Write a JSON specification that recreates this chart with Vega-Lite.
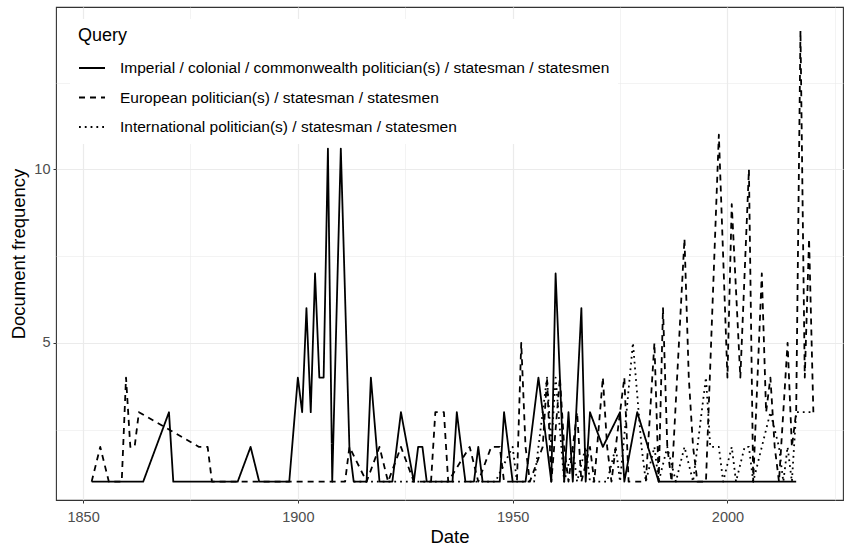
{
  "$schema": "https://vega.github.io/schema/vega-lite/v6.json",
  "width": 787,
  "height": 493,
  "autosize": {"type": "none"},
  "padding": {"left": 56, "top": 7, "right": 2, "bottom": 48},
  "background": "white",
  "config": {
    "font": "Liberation Sans",
    "view": {"stroke": "#333333", "strokeWidth": 1.1}
  },
  "data": {"values": [
    {"Date": 1852, "Query": "Imperial / colonial / commonwealth politician(s) / statesman / statesmen", "n": 1},
    {"Date": 1864, "Query": "Imperial / colonial / commonwealth politician(s) / statesman / statesmen", "n": 1},
    {"Date": 1870, "Query": "Imperial / colonial / commonwealth politician(s) / statesman / statesmen", "n": 3},
    {"Date": 1871, "Query": "Imperial / colonial / commonwealth politician(s) / statesman / statesmen", "n": 1},
    {"Date": 1886, "Query": "Imperial / colonial / commonwealth politician(s) / statesman / statesmen", "n": 1},
    {"Date": 1889, "Query": "Imperial / colonial / commonwealth politician(s) / statesman / statesmen", "n": 2},
    {"Date": 1891, "Query": "Imperial / colonial / commonwealth politician(s) / statesman / statesmen", "n": 1},
    {"Date": 1898, "Query": "Imperial / colonial / commonwealth politician(s) / statesman / statesmen", "n": 1},
    {"Date": 1900, "Query": "Imperial / colonial / commonwealth politician(s) / statesman / statesmen", "n": 4},
    {"Date": 1901, "Query": "Imperial / colonial / commonwealth politician(s) / statesman / statesmen", "n": 3},
    {"Date": 1902, "Query": "Imperial / colonial / commonwealth politician(s) / statesman / statesmen", "n": 6},
    {"Date": 1903, "Query": "Imperial / colonial / commonwealth politician(s) / statesman / statesmen", "n": 3},
    {"Date": 1904, "Query": "Imperial / colonial / commonwealth politician(s) / statesman / statesmen", "n": 7},
    {"Date": 1905, "Query": "Imperial / colonial / commonwealth politician(s) / statesman / statesmen", "n": 4},
    {"Date": 1906, "Query": "Imperial / colonial / commonwealth politician(s) / statesman / statesmen", "n": 4},
    {"Date": 1907, "Query": "Imperial / colonial / commonwealth politician(s) / statesman / statesmen", "n": 10.6},
    {"Date": 1908, "Query": "Imperial / colonial / commonwealth politician(s) / statesman / statesmen", "n": 1},
    {"Date": 1910, "Query": "Imperial / colonial / commonwealth politician(s) / statesman / statesmen", "n": 10.6},
    {"Date": 1912, "Query": "Imperial / colonial / commonwealth politician(s) / statesman / statesmen", "n": 2},
    {"Date": 1913, "Query": "Imperial / colonial / commonwealth politician(s) / statesman / statesmen", "n": 1},
    {"Date": 1916, "Query": "Imperial / colonial / commonwealth politician(s) / statesman / statesmen", "n": 1},
    {"Date": 1917, "Query": "Imperial / colonial / commonwealth politician(s) / statesman / statesmen", "n": 4},
    {"Date": 1919, "Query": "Imperial / colonial / commonwealth politician(s) / statesman / statesmen", "n": 1},
    {"Date": 1922, "Query": "Imperial / colonial / commonwealth politician(s) / statesman / statesmen", "n": 1},
    {"Date": 1924, "Query": "Imperial / colonial / commonwealth politician(s) / statesman / statesmen", "n": 3},
    {"Date": 1927, "Query": "Imperial / colonial / commonwealth politician(s) / statesman / statesmen", "n": 1},
    {"Date": 1928, "Query": "Imperial / colonial / commonwealth politician(s) / statesman / statesmen", "n": 2},
    {"Date": 1929, "Query": "Imperial / colonial / commonwealth politician(s) / statesman / statesmen", "n": 2},
    {"Date": 1930, "Query": "Imperial / colonial / commonwealth politician(s) / statesman / statesmen", "n": 1},
    {"Date": 1936, "Query": "Imperial / colonial / commonwealth politician(s) / statesman / statesmen", "n": 1},
    {"Date": 1937, "Query": "Imperial / colonial / commonwealth politician(s) / statesman / statesmen", "n": 3},
    {"Date": 1939, "Query": "Imperial / colonial / commonwealth politician(s) / statesman / statesmen", "n": 1},
    {"Date": 1941, "Query": "Imperial / colonial / commonwealth politician(s) / statesman / statesmen", "n": 1},
    {"Date": 1942, "Query": "Imperial / colonial / commonwealth politician(s) / statesman / statesmen", "n": 2},
    {"Date": 1943, "Query": "Imperial / colonial / commonwealth politician(s) / statesman / statesmen", "n": 1},
    {"Date": 1947, "Query": "Imperial / colonial / commonwealth politician(s) / statesman / statesmen", "n": 1},
    {"Date": 1948, "Query": "Imperial / colonial / commonwealth politician(s) / statesman / statesmen", "n": 3},
    {"Date": 1950, "Query": "Imperial / colonial / commonwealth politician(s) / statesman / statesmen", "n": 1},
    {"Date": 1953, "Query": "Imperial / colonial / commonwealth politician(s) / statesman / statesmen", "n": 1},
    {"Date": 1956, "Query": "Imperial / colonial / commonwealth politician(s) / statesman / statesmen", "n": 4},
    {"Date": 1959, "Query": "Imperial / colonial / commonwealth politician(s) / statesman / statesmen", "n": 1},
    {"Date": 1960, "Query": "Imperial / colonial / commonwealth politician(s) / statesman / statesmen", "n": 7},
    {"Date": 1962, "Query": "Imperial / colonial / commonwealth politician(s) / statesman / statesmen", "n": 1},
    {"Date": 1963, "Query": "Imperial / colonial / commonwealth politician(s) / statesman / statesmen", "n": 3},
    {"Date": 1964, "Query": "Imperial / colonial / commonwealth politician(s) / statesman / statesmen", "n": 1},
    {"Date": 1966, "Query": "Imperial / colonial / commonwealth politician(s) / statesman / statesmen", "n": 6},
    {"Date": 1967, "Query": "Imperial / colonial / commonwealth politician(s) / statesman / statesmen", "n": 1},
    {"Date": 1968, "Query": "Imperial / colonial / commonwealth politician(s) / statesman / statesmen", "n": 3},
    {"Date": 1971, "Query": "Imperial / colonial / commonwealth politician(s) / statesman / statesmen", "n": 2},
    {"Date": 1975, "Query": "Imperial / colonial / commonwealth politician(s) / statesman / statesmen", "n": 3},
    {"Date": 1976, "Query": "Imperial / colonial / commonwealth politician(s) / statesman / statesmen", "n": 1},
    {"Date": 1979, "Query": "Imperial / colonial / commonwealth politician(s) / statesman / statesmen", "n": 3},
    {"Date": 1984, "Query": "Imperial / colonial / commonwealth politician(s) / statesman / statesmen", "n": 1},
    {"Date": 2016, "Query": "Imperial / colonial / commonwealth politician(s) / statesman / statesmen", "n": 1},

    {"Date": 1852, "Query": "European politician(s) / statesman / statesmen", "n": 1},
    {"Date": 1854, "Query": "European politician(s) / statesman / statesmen", "n": 2},
    {"Date": 1856, "Query": "European politician(s) / statesman / statesmen", "n": 1},
    {"Date": 1859, "Query": "European politician(s) / statesman / statesmen", "n": 1},
    {"Date": 1860, "Query": "European politician(s) / statesman / statesmen", "n": 4},
    {"Date": 1861, "Query": "European politician(s) / statesman / statesmen", "n": 2},
    {"Date": 1862, "Query": "European politician(s) / statesman / statesmen", "n": 2},
    {"Date": 1863, "Query": "European politician(s) / statesman / statesmen", "n": 3},
    {"Date": 1877, "Query": "European politician(s) / statesman / statesmen", "n": 2},
    {"Date": 1879, "Query": "European politician(s) / statesman / statesmen", "n": 2},
    {"Date": 1880, "Query": "European politician(s) / statesman / statesmen", "n": 1},
    {"Date": 1911, "Query": "European politician(s) / statesman / statesmen", "n": 1},
    {"Date": 1912, "Query": "European politician(s) / statesman / statesmen", "n": 2},
    {"Date": 1916, "Query": "European politician(s) / statesman / statesmen", "n": 1},
    {"Date": 1919, "Query": "European politician(s) / statesman / statesmen", "n": 2},
    {"Date": 1921, "Query": "European politician(s) / statesman / statesmen", "n": 1},
    {"Date": 1924, "Query": "European politician(s) / statesman / statesmen", "n": 2},
    {"Date": 1927, "Query": "European politician(s) / statesman / statesmen", "n": 1},
    {"Date": 1931, "Query": "European politician(s) / statesman / statesmen", "n": 1},
    {"Date": 1932, "Query": "European politician(s) / statesman / statesmen", "n": 3},
    {"Date": 1934, "Query": "European politician(s) / statesman / statesmen", "n": 3},
    {"Date": 1935, "Query": "European politician(s) / statesman / statesmen", "n": 1},
    {"Date": 1940, "Query": "European politician(s) / statesman / statesmen", "n": 2},
    {"Date": 1942, "Query": "European politician(s) / statesman / statesmen", "n": 1},
    {"Date": 1945, "Query": "European politician(s) / statesman / statesmen", "n": 2},
    {"Date": 1947, "Query": "European politician(s) / statesman / statesmen", "n": 2},
    {"Date": 1948, "Query": "European politician(s) / statesman / statesmen", "n": 1},
    {"Date": 1951, "Query": "European politician(s) / statesman / statesmen", "n": 1},
    {"Date": 1952, "Query": "European politician(s) / statesman / statesmen", "n": 5},
    {"Date": 1953, "Query": "European politician(s) / statesman / statesmen", "n": 2},
    {"Date": 1954, "Query": "European politician(s) / statesman / statesmen", "n": 1},
    {"Date": 1957, "Query": "European politician(s) / statesman / statesmen", "n": 2},
    {"Date": 1958, "Query": "European politician(s) / statesman / statesmen", "n": 4},
    {"Date": 1959, "Query": "European politician(s) / statesman / statesmen", "n": 1},
    {"Date": 1961, "Query": "European politician(s) / statesman / statesmen", "n": 4},
    {"Date": 1962, "Query": "European politician(s) / statesman / statesmen", "n": 2},
    {"Date": 1963, "Query": "European politician(s) / statesman / statesmen", "n": 1},
    {"Date": 1965, "Query": "European politician(s) / statesman / statesmen", "n": 3},
    {"Date": 1966, "Query": "European politician(s) / statesman / statesmen", "n": 1},
    {"Date": 1968, "Query": "European politician(s) / statesman / statesmen", "n": 2},
    {"Date": 1969, "Query": "European politician(s) / statesman / statesmen", "n": 1},
    {"Date": 1971, "Query": "European politician(s) / statesman / statesmen", "n": 4},
    {"Date": 1972, "Query": "European politician(s) / statesman / statesmen", "n": 2},
    {"Date": 1973, "Query": "European politician(s) / statesman / statesmen", "n": 1},
    {"Date": 1976, "Query": "European politician(s) / statesman / statesmen", "n": 4},
    {"Date": 1977, "Query": "European politician(s) / statesman / statesmen", "n": 1},
    {"Date": 1981, "Query": "European politician(s) / statesman / statesmen", "n": 1},
    {"Date": 1983, "Query": "European politician(s) / statesman / statesmen", "n": 5},
    {"Date": 1984, "Query": "European politician(s) / statesman / statesmen", "n": 1},
    {"Date": 1985, "Query": "European politician(s) / statesman / statesmen", "n": 6},
    {"Date": 1986, "Query": "European politician(s) / statesman / statesmen", "n": 2},
    {"Date": 1987, "Query": "European politician(s) / statesman / statesmen", "n": 1},
    {"Date": 1990, "Query": "European politician(s) / statesman / statesmen", "n": 8},
    {"Date": 1991, "Query": "European politician(s) / statesman / statesmen", "n": 4},
    {"Date": 1992, "Query": "European politician(s) / statesman / statesmen", "n": 2},
    {"Date": 1993, "Query": "European politician(s) / statesman / statesmen", "n": 1},
    {"Date": 1995, "Query": "European politician(s) / statesman / statesmen", "n": 1},
    {"Date": 1998, "Query": "European politician(s) / statesman / statesmen", "n": 11},
    {"Date": 2000, "Query": "European politician(s) / statesman / statesmen", "n": 4},
    {"Date": 2001, "Query": "European politician(s) / statesman / statesmen", "n": 9},
    {"Date": 2003, "Query": "European politician(s) / statesman / statesmen", "n": 4},
    {"Date": 2005, "Query": "European politician(s) / statesman / statesmen", "n": 10},
    {"Date": 2006, "Query": "European politician(s) / statesman / statesmen", "n": 1},
    {"Date": 2008, "Query": "European politician(s) / statesman / statesmen", "n": 7},
    {"Date": 2009, "Query": "European politician(s) / statesman / statesmen", "n": 3},
    {"Date": 2010, "Query": "European politician(s) / statesman / statesmen", "n": 4},
    {"Date": 2011, "Query": "European politician(s) / statesman / statesmen", "n": 2},
    {"Date": 2012, "Query": "European politician(s) / statesman / statesmen", "n": 1},
    {"Date": 2014, "Query": "European politician(s) / statesman / statesmen", "n": 5},
    {"Date": 2015, "Query": "European politician(s) / statesman / statesmen", "n": 2},
    {"Date": 2016, "Query": "European politician(s) / statesman / statesmen", "n": 3},
    {"Date": 2017, "Query": "European politician(s) / statesman / statesmen", "n": 14},
    {"Date": 2018, "Query": "European politician(s) / statesman / statesmen", "n": 4},
    {"Date": 2019, "Query": "European politician(s) / statesman / statesmen", "n": 8},
    {"Date": 2020, "Query": "European politician(s) / statesman / statesmen", "n": 3},

    {"Date": 1913, "Query": "International politician(s) / statesman / statesmen", "n": 1},
    {"Date": 1930, "Query": "International politician(s) / statesman / statesmen", "n": 1},
    {"Date": 1946, "Query": "International politician(s) / statesman / statesmen", "n": 1},
    {"Date": 1950, "Query": "International politician(s) / statesman / statesmen", "n": 2},
    {"Date": 1951, "Query": "International politician(s) / statesman / statesmen", "n": 1},
    {"Date": 1955, "Query": "International politician(s) / statesman / statesmen", "n": 1},
    {"Date": 1958, "Query": "International politician(s) / statesman / statesmen", "n": 4},
    {"Date": 1959, "Query": "International politician(s) / statesman / statesmen", "n": 2},
    {"Date": 1960, "Query": "International politician(s) / statesman / statesmen", "n": 4},
    {"Date": 1962, "Query": "International politician(s) / statesman / statesmen", "n": 1},
    {"Date": 1964, "Query": "International politician(s) / statesman / statesmen", "n": 2},
    {"Date": 1965, "Query": "International politician(s) / statesman / statesmen", "n": 1},
    {"Date": 1967, "Query": "International politician(s) / statesman / statesmen", "n": 2},
    {"Date": 1968, "Query": "International politician(s) / statesman / statesmen", "n": 1},
    {"Date": 1972, "Query": "International politician(s) / statesman / statesmen", "n": 1},
    {"Date": 1974, "Query": "International politician(s) / statesman / statesmen", "n": 2},
    {"Date": 1975, "Query": "International politician(s) / statesman / statesmen", "n": 1},
    {"Date": 1978, "Query": "International politician(s) / statesman / statesmen", "n": 5},
    {"Date": 1980, "Query": "International politician(s) / statesman / statesmen", "n": 2},
    {"Date": 1981, "Query": "International politician(s) / statesman / statesmen", "n": 1},
    {"Date": 1983, "Query": "International politician(s) / statesman / statesmen", "n": 2},
    {"Date": 1984, "Query": "International politician(s) / statesman / statesmen", "n": 1},
    {"Date": 1986, "Query": "International politician(s) / statesman / statesmen", "n": 2},
    {"Date": 1988, "Query": "International politician(s) / statesman / statesmen", "n": 1},
    {"Date": 1990, "Query": "International politician(s) / statesman / statesmen", "n": 2},
    {"Date": 1992, "Query": "International politician(s) / statesman / statesmen", "n": 1},
    {"Date": 1995, "Query": "International politician(s) / statesman / statesmen", "n": 4},
    {"Date": 1996, "Query": "International politician(s) / statesman / statesmen", "n": 2},
    {"Date": 1998, "Query": "International politician(s) / statesman / statesmen", "n": 2},
    {"Date": 1999, "Query": "International politician(s) / statesman / statesmen", "n": 1},
    {"Date": 2001, "Query": "International politician(s) / statesman / statesmen", "n": 2},
    {"Date": 2002, "Query": "International politician(s) / statesman / statesmen", "n": 1},
    {"Date": 2004, "Query": "International politician(s) / statesman / statesmen", "n": 2},
    {"Date": 2005, "Query": "International politician(s) / statesman / statesmen", "n": 2},
    {"Date": 2006, "Query": "International politician(s) / statesman / statesmen", "n": 1},
    {"Date": 2008, "Query": "International politician(s) / statesman / statesmen", "n": 2},
    {"Date": 2010, "Query": "International politician(s) / statesman / statesmen", "n": 3},
    {"Date": 2012, "Query": "International politician(s) / statesman / statesmen", "n": 2},
    {"Date": 2013, "Query": "International politician(s) / statesman / statesmen", "n": 1},
    {"Date": 2014, "Query": "International politician(s) / statesman / statesmen", "n": 2},
    {"Date": 2015, "Query": "International politician(s) / statesman / statesmen", "n": 1},
    {"Date": 2016, "Query": "International politician(s) / statesman / statesmen", "n": 3},
    {"Date": 2020, "Query": "International politician(s) / statesman / statesmen", "n": 3}
  ]},
  "mark": {"type": "line", "color": "black", "strokeWidth": 1.8, "strokeJoin": "round", "clip": true},
  "encoding": {
    "x": {
      "field": "Date", "type": "quantitative",
      "scale": {"domain": [1843.7, 2026.9], "nice": false, "zero": false},
      "axis": {
        "title": "Date", "titleFont": "Liberation Sans", "titleFontSize": 18.5, "titleFontWeight": "normal", "titleColor": "black", "titlePadding": 4,
        "values": [1850, 1875, 1900, 1925, 1950, 1975, 2000, 2025],
        "labelExpr": "datum.value % 50 === 0 ? datum.label : ''",
        "format": "d",
        "labelFontSize": 14.5, "labelColor": "#4D4D4D", "labelPadding": 7, "labelFont": "Liberation Sans",
        "domain": false,
        "tickColor": "#333333",
        "tickSize": 3,
        "tickOpacity": {"condition": {"test": "datum.value % 50 === 0", "value": 1}, "value": 0},
        "grid": true, "gridColor": "#EBEBEB",
        "gridWidth": {"condition": {"test": "datum.value % 50 === 0", "value": 1.2}, "value": 0.6}
      }
    },
    "y": {
      "field": "n", "type": "quantitative",
      "scale": {"domain": [0.47, 14.68], "nice": false, "zero": false},
      "axis": {
        "title": "Document frequency", "titleFont": "Liberation Sans", "titleFontSize": 18.5, "titleFontWeight": "normal", "titleColor": "black", "titlePadding": 5,
        "values": [2.5, 5, 7.5, 10, 12.5],
        "labelExpr": "datum.value % 5 === 0 ? datum.label : ''",
        "labelFontSize": 14.5, "labelColor": "#4D4D4D", "labelPadding": 3, "labelFont": "Liberation Sans",
        "domain": false,
        "tickColor": "#333333",
        "tickSize": 3,
        "tickOpacity": {"condition": {"test": "datum.value % 5 === 0", "value": 1}, "value": 0},
        "grid": true, "gridColor": "#EBEBEB",
        "gridWidth": {"condition": {"test": "datum.value % 5 === 0", "value": 1.2}, "value": 0.6}
      }
    },
    "strokeDash": {
      "field": "Query", "type": "nominal",
      "scale": {
        "domain": ["Imperial / colonial / commonwealth politician(s) / statesman / statesmen", "European politician(s) / statesman / statesmen", "International politician(s) / statesman / statesmen"],
        "range": [[1, 0], [6, 5], [1.8, 4]]
      },
      "legend": {
        "title": "Query", "orient": "none", "legendX": 14, "legendY": 12,
        "titleFont": "Liberation Sans", "titleFontSize": 18, "titleFontWeight": "normal", "titleColor": "black", "titlePadding": 9,
        "labelFont": "Liberation Sans", "labelFontSize": 15.5, "labelColor": "black", "labelOffset": 14, "labelLimit": 800,
        "symbolType": "stroke", "symbolSize": 676, "symbolStrokeWidth": 1.8, "symbolStrokeColor": "black",
        "rowPadding": 6.5, "fillColor": "white", "padding": 8
      }
    },
    "order": {"field": "Date", "type": "quantitative"}
  }
}
